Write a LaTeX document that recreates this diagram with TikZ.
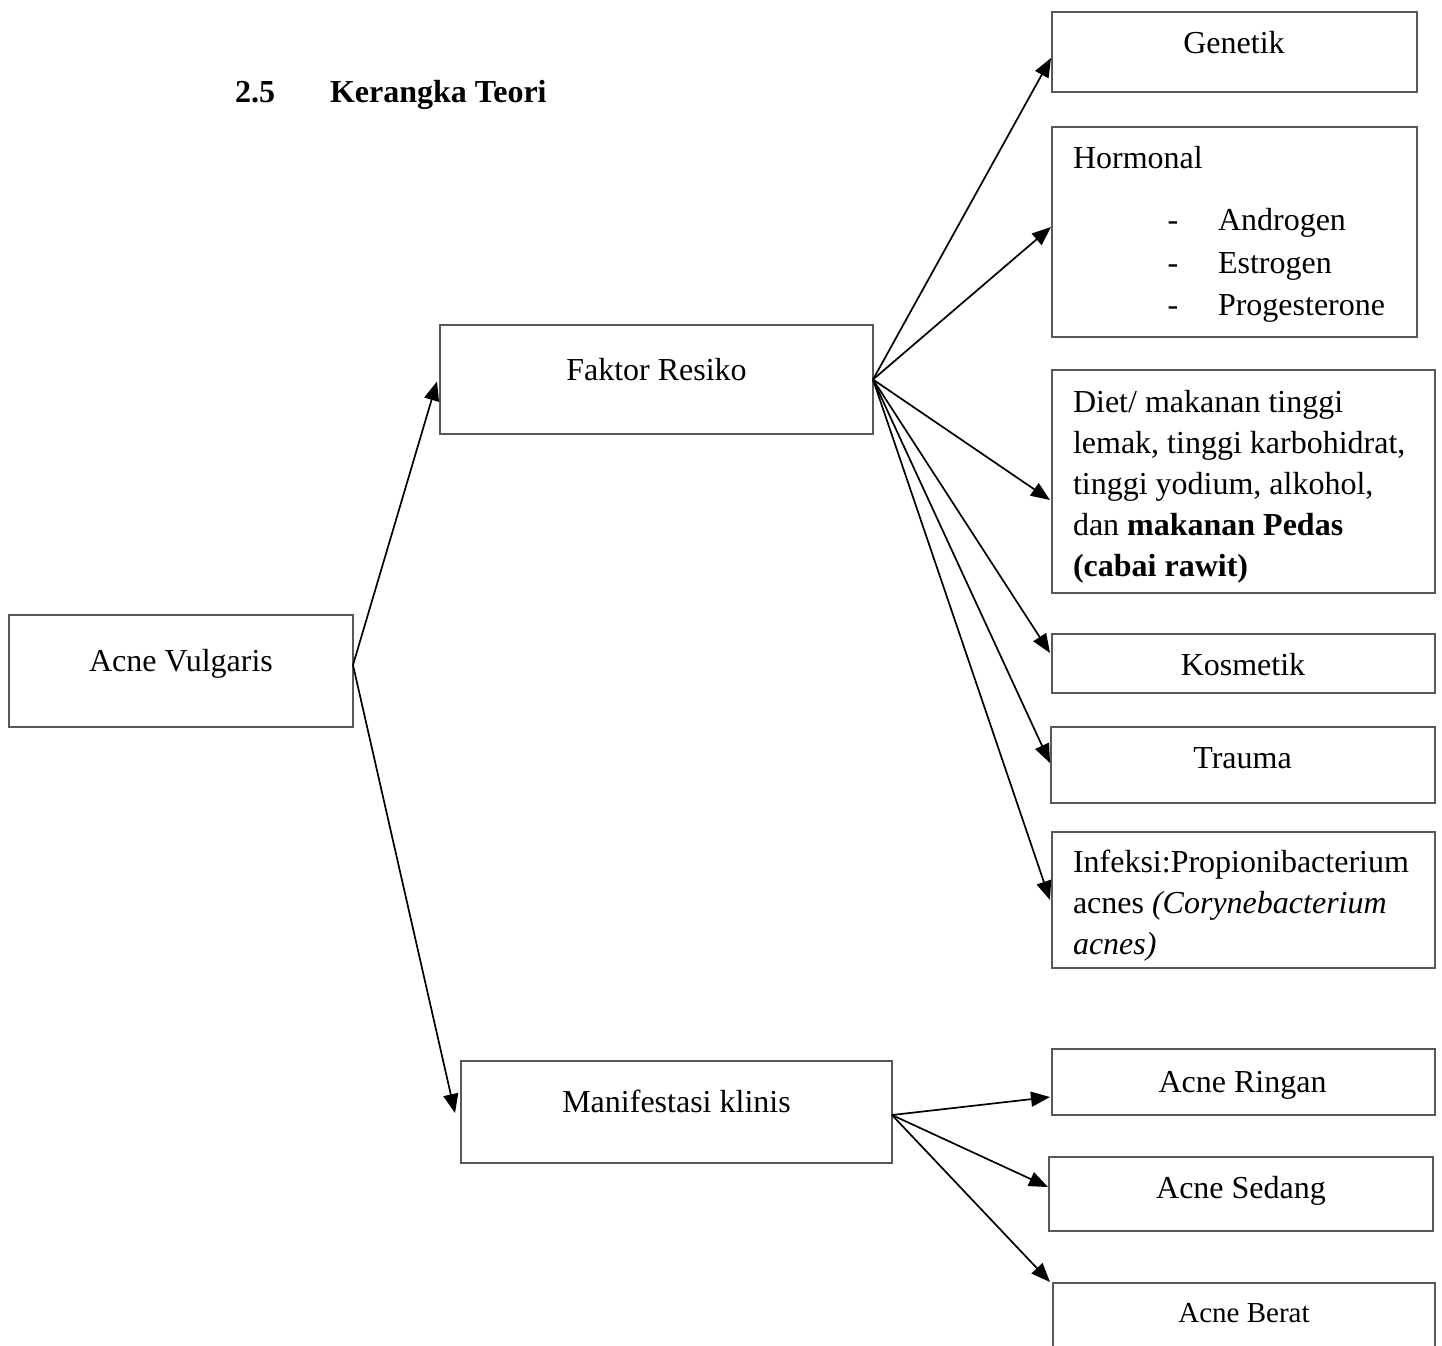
\documentclass[tikz,border=0pt]{standalone}
\usepackage{fontspec}
\setmainfont{Liberation Serif}
\usetikzlibrary{arrows.meta}
\definecolor{boxgray}{RGB}{88,88,88}
\begin{document}
\begin{tikzpicture}[x=1pt,y=-1pt,
  box/.style={draw=boxgray,line width=2.8pt,inner sep=0pt,outer sep=0pt,anchor=north west},
  txt/.style={inner sep=0pt,outer sep=0pt,font=\fontsize{32}{40}\selectfont},
  smalltxt/.style={inner sep=0pt,outer sep=0pt,font=\fontsize{29}{36}\selectfont},
  arr/.style={line width=1.7pt,-{Triangle[length=19pt,width=15pt]}}]
\useasboundingbox (0,0) rectangle (1442,1345);
\clip (0,0) rectangle (1442,1345);
\fill[white] (0,0) rectangle (1442,1345);

% title
\node[txt,anchor=base west,font=\fontsize{32}{40}\selectfont\bfseries] (tnum) at (235,102) {2.5};
\node[txt,anchor=base west,font=\fontsize{32}{40}\selectfont\bfseries] (ttl) at (330,102) {Kerangka Teori};

% boxes
\node[box,minimum width=344pt,minimum height=112pt] (av) at (9,615) {};
\node[box,minimum width=433pt,minimum height=109pt] (fr) at (440,325) {};
\node[box,minimum width=431pt,minimum height=102pt] (mk) at (461,1061) {};
\node[box,minimum width=365pt,minimum height=80pt] (gen) at (1052,12) {};
\node[box,minimum width=365pt,minimum height=210pt] (hor) at (1052,127) {};
\node[box,minimum width=383pt,minimum height=223pt] (diet) at (1052,370) {};
\node[box,minimum width=383pt,minimum height=59pt] (kos) at (1052,634) {};
\node[box,minimum width=384pt,minimum height=76pt] (tra) at (1051,727) {};
\node[box,minimum width=383pt,minimum height=136pt] (inf) at (1052,832) {};
\node[box,minimum width=383pt,minimum height=66pt] (rin) at (1052,1049) {};
\node[box,minimum width=384pt,minimum height=74pt] (sed) at (1049,1157) {};
\node[box,minimum width=382pt,minimum height=120pt] (ber) at (1053,1283) {};

% texts
\node[txt,anchor=base] (avT) at (181,671) {Acne Vulgaris};
\node[txt,anchor=base] (frT) at (656.5,380) {Faktor Resiko};
\node[txt,anchor=base] (mkT) at (676.5,1112) {Manifestasi klinis};
\node[txt,anchor=base] (genT) at (1234,53) {Genetik};
\node[txt,anchor=base west] (horT) at (1073,168) {Hormonal};
\node[txt,anchor=base] (d1) at (1173,230) {-};
\node[txt,anchor=base] (d2) at (1173,273) {-};
\node[txt,anchor=base] (d3) at (1173,315) {-};
\node[txt,anchor=base west] (h1) at (1218,230) {Androgen};
\node[txt,anchor=base west] (h2) at (1218,273) {Estrogen};
\node[txt,anchor=base west] (h3) at (1218,315) {Progesterone};
\node[txt,anchor=base west] (dl1) at (1073,412) {Diet/ makanan tinggi};
\node[txt,anchor=base west] (dl2) at (1073,453) {lemak, tinggi karbohidrat,};
\node[txt,anchor=base west] (dl3) at (1073,494) {tinggi yodium, alkohol,};
\node[txt,anchor=base west] (dl4) at (1073,535) {dan \textbf{makanan Pedas}};
\node[txt,anchor=base west] (dl5) at (1073,576) {\textbf{(cabai rawit)}};
\node[txt,anchor=base] (kosT) at (1243,675) {Kosmetik};
\node[txt,anchor=base] (traT) at (1242.5,768) {Trauma};
\node[txt,anchor=base west] (il1) at (1073,872) {Infeksi:Propionibacterium};
\node[txt,anchor=base west] (il2) at (1073,913) {acnes \textit{(Corynebacterium}};
\node[txt,anchor=base west] (il3) at (1073,954) {\textit{acnes)}};
\node[txt,anchor=base] (rinT) at (1242.5,1092) {Acne Ringan};
\node[txt,anchor=base] (sedT) at (1241,1198) {Acne Sedang};
\node[smalltxt,anchor=base] (berT) at (1244,1322) {Acne Berat};

% connectors
\draw[arr] ([yshift=6pt]av.east) -- ([xshift=-3pt,yshift=-2pt]fr.west);
\draw[arr] ([yshift=6pt]av.east) -- ([xshift=-6pt,yshift=-1pt]mk.west);
\draw[arr] (fr.east) -- ([xshift=-1pt,yshift=-6pt]gen.west);
\draw[arr] (fr.east) -- ([xshift=-1pt,yshift=5pt]hor.west);
\draw[arr] (fr.east) -- ([xshift=-2pt,yshift=-18.5pt]diet.west);
\draw[arr] (fr.east) -- ([xshift=-2pt,yshift=10.5pt]kos.west);
\draw[arr] (fr.east) -- ([xshift=-1pt,yshift=2pt]tra.west);
\draw[arr] (fr.east) -- ([xshift=-2pt]inf.west);
\draw[arr] ([yshift=-3pt]mk.east) -- ([xshift=-2pt,yshift=-15pt]rin.west);
\draw[arr] ([yshift=-3pt]mk.east) -- ([xshift=-1pt,yshift=7pt]sed.west);
\draw[arr] ([yshift=-3pt]mk.east) -- ([xshift=-3pt,yshift=1pt]ber.north west);
\end{tikzpicture}
\end{document}
